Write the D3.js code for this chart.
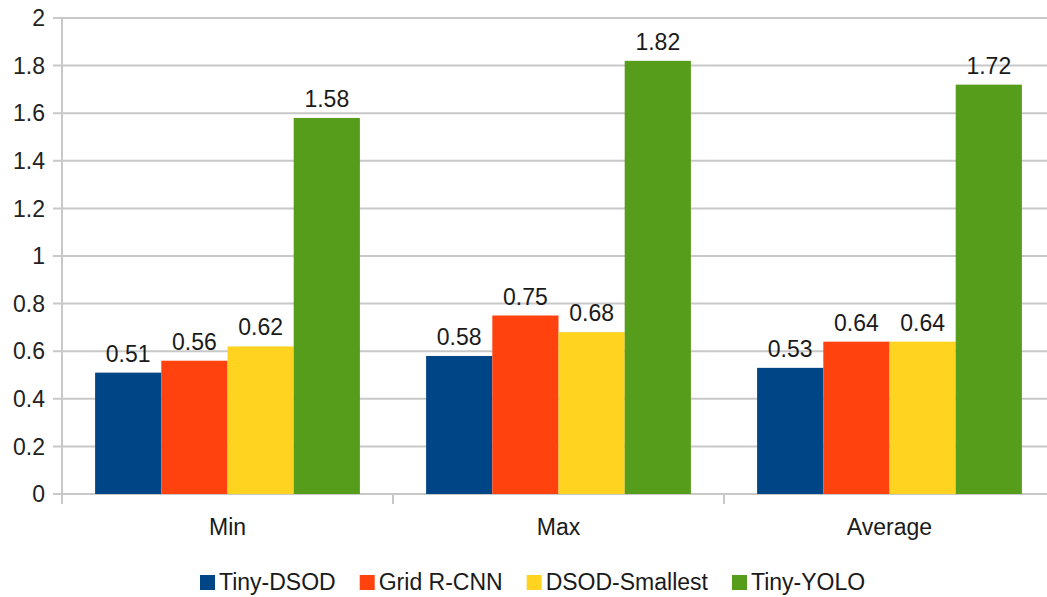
<!DOCTYPE html>
<html>
<head>
<meta charset="utf-8">
<script src="https://cdn.jsdelivr.net/npm/d3@7"></script>
<style>
  html, body { margin: 0; padding: 0; background: #fff; }
  svg { display: block; font-family: "Liberation Sans", Arial, sans-serif; }
</style>
</head>
<body>
<svg id="chart" width="1047" height="597"></svg>
<script>
// Chart data
const categories = ["Min", "Max", "Average"];
const seriesNames = ["Tiny-DSOD", "Grid R-CNN", "DSOD-Smallest", "Tiny-YOLO"];
const tinyDSOD = [0.51, 0.58, 0.53];
const gridRCNN = [0.56, 0.75, 0.64];
const dsodSmallest = [0.62, 0.68, 0.64];
const tinyYOLO = [1.58, 1.82, 1.72];
const yTicks = [0, 0.2, 0.4, 0.6, 0.8, 1, 1.2, 1.4, 1.6, 1.8, 2];

const seriesValues = [tinyDSOD, gridRCNN, dsodSmallest, tinyYOLO];
const colors = ["#004586", "#ff420e", "#ffd320", "#579d1c"];

const svg = d3.select("#chart");
const plot = { left: 62, right: 1055, top: 18, bottom: 494 };
const gridColor = "#c8c8c8";
const fontSize = 23;

const y = d3.scaleLinear().domain([0, 2]).range([plot.bottom, plot.top]);
const x0 = d3.scaleBand().domain(categories).range([plot.left, plot.right]).padding(0);
const x1 = d3.scaleBand().domain(seriesNames).range([0, x0.bandwidth()])
  .paddingInner(0).paddingOuter(0.5);

// horizontal gridlines with short ticks left of the axis
svg.append("g").selectAll("line").data(yTicks).join("line")
  .attr("x1", plot.left - 9).attr("x2", plot.right)
  .attr("y1", d => y(d)).attr("y2", d => y(d))
  .attr("stroke", gridColor).attr("stroke-width", 2);

// y tick labels
svg.append("g").selectAll("text").data(yTicks).join("text")
  .attr("x", 45).attr("y", d => y(d))
  .attr("dy", "0.36em")
  .attr("text-anchor", "end")
  .attr("font-size", fontSize)
  .attr("fill", "#222")
  .text(d => d3.format("")(d));

// vertical axis line
svg.append("line")
  .attr("x1", plot.left).attr("x2", plot.left)
  .attr("y1", plot.top - 1).attr("y2", plot.bottom + 10)
  .attr("stroke", gridColor).attr("stroke-width", 2);

// category separators on the x axis
svg.append("g").selectAll("line").data(categories.slice(1)).join("line")
  .attr("x1", d => x0(d)).attr("x2", d => x0(d))
  .attr("y1", plot.bottom).attr("y2", plot.bottom + 10)
  .attr("stroke", gridColor).attr("stroke-width", 2);

// bars
const groups = svg.append("g").selectAll("g").data(categories).join("g")
  .attr("transform", d => `translate(${x0(d)},0)`);

groups.selectAll("rect")
  .data((c, ci) => seriesNames.map((s, si) => ({ s, si, v: seriesValues[si][ci] })))
  .join("rect")
  .attr("x", d => x1(d.s))
  .attr("width", x1.bandwidth())
  .attr("y", d => y(d.v))
  .attr("height", d => y(0) - y(d.v))
  .attr("fill", d => colors[d.si]);

// value labels
groups.selectAll("text.value")
  .data((c, ci) => seriesNames.map((s, si) => ({ s, si, v: seriesValues[si][ci] })))
  .join("text")
  .attr("class", "value")
  .attr("x", d => x1(d.s) + x1.bandwidth() / 2)
  .attr("y", d => y(d.v) - 11)
  .attr("text-anchor", "middle")
  .attr("font-size", fontSize)
  .attr("fill", "#1a1a1a")
  .text(d => d3.format(".2f")(d.v));

// category labels
svg.append("g").selectAll("text").data(categories).join("text")
  .attr("x", d => x0(d) + x0.bandwidth() / 2)
  .attr("y", 535)
  .attr("text-anchor", "middle")
  .attr("font-size", fontSize)
  .attr("fill", "#1a1a1a")
  .text(d => d);

// legend, laid out left to right from measured text widths
const legend = svg.append("g");
let lx = 200;
const ly = 590;
seriesNames.forEach((name, i) => {
  legend.append("rect")
    .attr("x", lx).attr("y", ly - 15)
    .attr("width", 15).attr("height", 15)
    .attr("fill", colors[i]);
  const t = legend.append("text")
    .attr("x", lx + 19).attr("y", ly)
    .attr("font-size", fontSize)
    .attr("fill", "#1a1a1a")
    .text(name);
  lx += 19 + t.node().getComputedTextLength() + 24;
});
</script>
</body>
</html>
